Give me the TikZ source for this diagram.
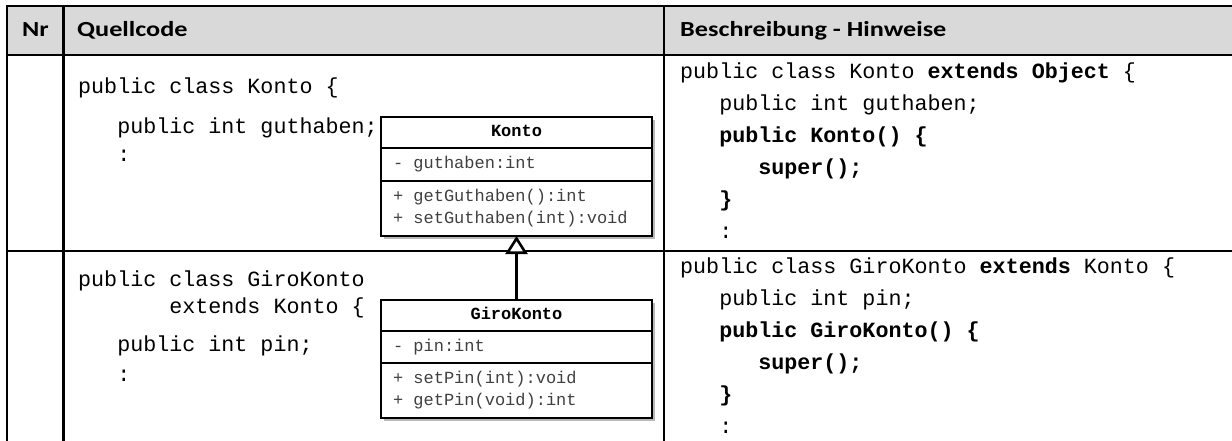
\documentclass[tikz,border=0pt]{standalone}
\usepackage{fontspec}
\setmainfont{Carlito}
\setmonofont{Liberation Mono}
\newfontfamily\kopfschrift[FakeStretch=1.22]{Carlito}
\usepackage{tikz}
\usetikzlibrary{positioning,calc,arrows.meta,backgrounds}

\definecolor{kopfgrau}{HTML}{D9D9D9}
\definecolor{umltext}{HTML}{404040}

\newcommand\codefont{\ttfamily\fontsize{21.7}{32}\selectfont}
\newcommand\umlfont{\ttfamily\fontsize{17}{22}\selectfont}
% Einrueckung um drei Zeichen
\newcommand\ein{\phantom{xxx}}

\tikzset{
  gitter/.style={line width=2.5pt},
  kopf/.style={font=\kopfschrift\fontsize{21.5}{25}\selectfont\bfseries, anchor=base west, inner sep=0pt},
  code/.style={font=\codefont, anchor=base west, align=left, inner sep=0pt},
  klasse/.style={draw, line width=1.2pt, fill=white, outer sep=0pt, minimum width=271pt},
  kname/.style={klasse, inner sep=0pt, minimum height=31pt, font=\umlfont\bfseries,
    execute at begin node=\strut},
  % align=left setzt \spaceskip, fuer Monospace wieder auf Zeichenbreite
  kteil/.style={klasse, inner xsep=12pt, inner ysep=0pt, text width=247pt, align=left,
    text=umltext, font=\umlfont,
    execute at begin node={\umlfont\spaceskip=0pt\xspaceskip=0pt\strut},
    execute at end node=\strut},
  erbt/.style={line width=2.6pt, -{Triangle[length=18pt, width=22pt, fill=white]}},
  schatten/.style={fill=black!28}
}

\begin{document}
\begin{tikzpicture}[x=1pt,y=-1pt]
  \useasboundingbox (0,0) rectangle (1232,441);
%Kopfzeile
  \fill[kopfgrau] (7,6) rectangle (1232,55);
  \node[kopf] (nr) at (22,37) {Nr};
  \node[kopf] (quellcode) at (77,37) {Quellcode};
  \node[kopf] (hinweise) at (680,37) {Beschreibung - Hinweise};
%Tabellenlinien
  \draw[gitter] (1232,6) -- (7,6) -- (7,441);
  \draw[gitter] (7,55) -- (1232,55);
  \draw[gitter] (7,251) -- (1232,251);
  \draw[gitter] (63.5,6) -- (63.5,441);
  \draw[gitter] (664,6) -- (664,441);
%Quellcode (Anker = Grundlinie der letzten Zeile)
  \node[code] (kontoQuell) at (78,161) {public class Konto \{\\[8pt]
    \ein public int guthaben;\\[-4pt]
    \ein :};
  \node[code] (giroQuell) at (78,381) {public class GiroKonto\\[-5pt]
    \phantom{xxxxxxx}extends Konto \{\\[6pt]
    \ein public int pin;\\[-2pt]
    \ein :};
%Beschreibung
  \node[code] (kontoHinweis) at (680,238) {public class Konto \textbf{extends Object} \{\\
    \ein public int guthaben;\\
    \ein\textbf{public Konto() \{}\\
    \ein\ein\textbf{super();}\\
    \ein\textbf{\}}\\
    \ein :};
  \node[code] (giroHinweis) at (680,433) {public class GiroKonto \textbf{extends} Konto \{\\
    \ein public int pin;\\
    \ein\textbf{public GiroKonto() \{}\\
    \ein\ein\textbf{super();}\\
    \ein\textbf{\}}\\
    \ein :};
%Klassendiagramm
  \node[kname] (kontoName) at (516.5,132.5) {Konto};
  \node[kteil, minimum height=33pt, below=0pt of kontoName] (kontoAttr) {- guthaben:int};
  \node[kteil, minimum height=55pt, below=0pt of kontoAttr] (kontoOps) {+ getGuthaben():int\\+ setGuthaben(int):void};
  \node[kname] (giroName) at (516.5,315.5) {GiroKonto};
  \node[kteil, minimum height=32pt, below=0pt of giroName] (giroAttr) {- pin:int};
  \node[kteil, minimum height=55pt, below=0pt of giroAttr] (giroOps) {+ setPin(int):void\\+ getPin(void):int};
  \begin{scope}[on background layer]
    \fill[schatten] ($(kontoName.north west)+(3,3)$) rectangle ($(kontoOps.south east)+(3,3)$);
    \fill[schatten] ($(giroName.north west)+(3,3)$) rectangle ($(giroOps.south east)+(3,3)$);
  \end{scope}
  \draw[erbt] (giroName.north) -- (kontoOps.south);
\end{tikzpicture}
\end{document}
